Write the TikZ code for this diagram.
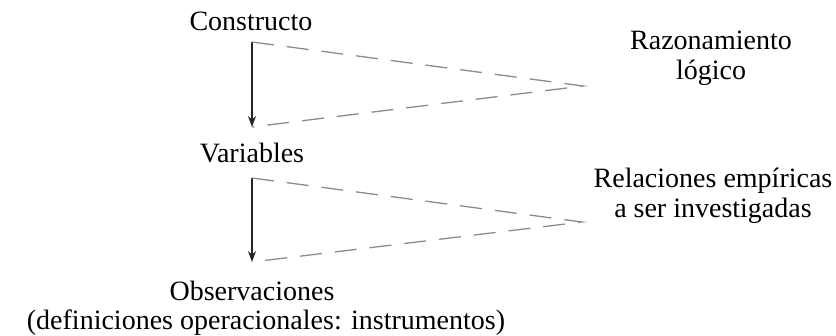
\documentclass[tikz,border=0pt]{standalone}
\usepackage{fontspec}
\setmainfont{Liberation Serif}
\usetikzlibrary{arrows.meta}
\begin{document}
\begin{tikzpicture}[x=1pt,y=-1pt,
  lbl/.style={font=\fontsize{28}{30}\selectfont, inner sep=0pt, anchor=base, align=center},
  dashln/.style={draw=black!45, line width=1.3pt, dash pattern=on 22pt off 13pt},
  arr/.style={draw=black!85, line width=1.2pt, -{Stealth[length=11pt,width=8pt]}}]
\useasboundingbox (0,0) rectangle (836,336);
% labels
\node[lbl] (constructo) at (251,31) {Constructo};
\node[lbl] (variables) at (252,163) {Variables};
\node[lbl] (observ) at (252,301) {Observaciones};
\node[lbl] (defop) at (266,330) {(definiciones operacionales: instrumentos)};
\node[lbl] (razon) at (711,80) {Razonamiento\\lógico};
\node[lbl] (relac) at (713,218) {Relaciones empíricas\\a ser investigadas};
% triangle 1
\coordinate (t1) at (252,42);
\coordinate (b1) at (252,127);
\coordinate (a1) at (583,86);
\draw[arr] (t1) -- (b1);
\draw[dashln] (t1) -- (a1) -- (b1);
% triangle 2
\coordinate (t2) at (252,178);
\coordinate (b2) at (252,262);
\coordinate (a2) at (582,222);
\draw[arr] (t2) -- (b2);
\draw[dashln] (t2) -- (a2) -- (b2);
\end{tikzpicture}
\end{document}
